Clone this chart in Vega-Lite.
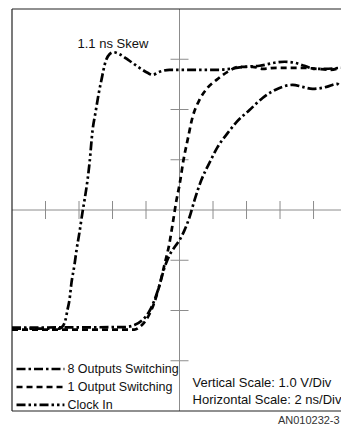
{
  "$schema": "https://vega.github.io/schema/vega-lite/v6.json",
  "width": 329,
  "height": 402,
  "autosize": {"type": "none"},
  "padding": {"left": 12, "top": 9, "right": 0, "bottom": 14},
  "background": "white",
  "config": {"view": {"stroke": null}, "text": {"font": "Liberation Sans", "color": "#111"}},
  "datasets": {
    "curves": [
      {"series": "Clock In", "t": 0, "v": 1.64},
      {"series": "Clock In", "t": 2.84, "v": 1.64},
      {"series": "Clock In", "t": 2.96, "v": 1.66},
      {"series": "Clock In", "t": 3.19, "v": 1.81},
      {"series": "Clock In", "t": 3.31, "v": 2.01},
      {"series": "Clock In", "t": 3.43, "v": 2.21},
      {"series": "Clock In", "t": 3.55, "v": 2.55},
      {"series": "Clock In", "t": 3.73, "v": 2.91},
      {"series": "Clock In", "t": 3.85, "v": 3.2},
      {"series": "Clock In", "t": 4.03, "v": 3.56},
      {"series": "Clock In", "t": 4.21, "v": 3.96},
      {"series": "Clock In", "t": 4.33, "v": 4.2},
      {"series": "Clock In", "t": 4.51, "v": 4.6},
      {"series": "Clock In", "t": 4.63, "v": 4.94},
      {"series": "Clock In", "t": 4.81, "v": 5.59},
      {"series": "Clock In", "t": 4.99, "v": 5.95},
      {"series": "Clock In", "t": 5.16, "v": 6.29},
      {"series": "Clock In", "t": 5.34, "v": 6.59},
      {"series": "Clock In", "t": 5.58, "v": 6.95},
      {"series": "Clock In", "t": 5.82, "v": 7.1},
      {"series": "Clock In", "t": 6.06, "v": 7.14},
      {"series": "Clock In", "t": 6.42, "v": 7.1},
      {"series": "Clock In", "t": 7.01, "v": 6.97},
      {"series": "Clock In", "t": 7.61, "v": 6.83},
      {"series": "Clock In", "t": 8.09, "v": 6.73},
      {"series": "Clock In", "t": 8.39, "v": 6.69},
      {"series": "Clock In", "t": 8.81, "v": 6.75},
      {"series": "Clock In", "t": 9.4, "v": 6.79},
      {"series": "Clock In", "t": 10.0, "v": 6.79},
      {"series": "Clock In", "t": 11.19, "v": 6.79},
      {"series": "Clock In", "t": 12.39, "v": 6.79},
      {"series": "Clock In", "t": 12.99, "v": 6.81},
      {"series": "Clock In", "t": 13.88, "v": 6.85},
      {"series": "Clock In", "t": 14.78, "v": 6.87},
      {"series": "Clock In", "t": 15.67, "v": 6.93},
      {"series": "Clock In", "t": 16.27, "v": 6.95},
      {"series": "Clock In", "t": 16.87, "v": 6.93},
      {"series": "Clock In", "t": 17.46, "v": 6.87},
      {"series": "Clock In", "t": 18.06, "v": 6.81},
      {"series": "Clock In", "t": 18.66, "v": 6.81},
      {"series": "Clock In", "t": 19.61, "v": 6.83},
      {"series": "1 Output Switching", "t": 0, "v": 1.62},
      {"series": "1 Output Switching", "t": 7.31, "v": 1.62},
      {"series": "1 Output Switching", "t": 7.61, "v": 1.67},
      {"series": "1 Output Switching", "t": 7.91, "v": 1.77},
      {"series": "1 Output Switching", "t": 8.21, "v": 1.93},
      {"series": "1 Output Switching", "t": 8.51, "v": 2.17},
      {"series": "1 Output Switching", "t": 8.81, "v": 2.51},
      {"series": "1 Output Switching", "t": 9.1, "v": 2.91},
      {"series": "1 Output Switching", "t": 9.4, "v": 3.34},
      {"series": "1 Output Switching", "t": 9.58, "v": 3.7},
      {"series": "1 Output Switching", "t": 9.82, "v": 4.2},
      {"series": "1 Output Switching", "t": 10.0, "v": 4.5},
      {"series": "1 Output Switching", "t": 10.24, "v": 5.0},
      {"series": "1 Output Switching", "t": 10.48, "v": 5.39},
      {"series": "1 Output Switching", "t": 10.78, "v": 5.85},
      {"series": "1 Output Switching", "t": 11.19, "v": 6.19},
      {"series": "1 Output Switching", "t": 11.67, "v": 6.43},
      {"series": "1 Output Switching", "t": 12.21, "v": 6.59},
      {"series": "1 Output Switching", "t": 12.87, "v": 6.75},
      {"series": "1 Output Switching", "t": 13.58, "v": 6.85},
      {"series": "1 Output Switching", "t": 14.36, "v": 6.85},
      {"series": "1 Output Switching", "t": 14.96, "v": 6.81},
      {"series": "1 Output Switching", "t": 15.79, "v": 6.83},
      {"series": "1 Output Switching", "t": 16.57, "v": 6.83},
      {"series": "1 Output Switching", "t": 17.34, "v": 6.83},
      {"series": "1 Output Switching", "t": 18.18, "v": 6.81},
      {"series": "1 Output Switching", "t": 18.96, "v": 6.79},
      {"series": "1 Output Switching", "t": 19.61, "v": 6.83},
      {"series": "8 Outputs Switching", "t": 0, "v": 1.66},
      {"series": "8 Outputs Switching", "t": 6.72, "v": 1.67},
      {"series": "8 Outputs Switching", "t": 7.31, "v": 1.71},
      {"series": "8 Outputs Switching", "t": 7.79, "v": 1.81},
      {"series": "8 Outputs Switching", "t": 8.21, "v": 1.99},
      {"series": "8 Outputs Switching", "t": 8.51, "v": 2.21},
      {"series": "8 Outputs Switching", "t": 8.81, "v": 2.51},
      {"series": "8 Outputs Switching", "t": 9.1, "v": 2.85},
      {"series": "8 Outputs Switching", "t": 9.4, "v": 3.1},
      {"series": "8 Outputs Switching", "t": 9.7, "v": 3.26},
      {"series": "8 Outputs Switching", "t": 10.0, "v": 3.4},
      {"series": "8 Outputs Switching", "t": 10.3, "v": 3.6},
      {"series": "8 Outputs Switching", "t": 10.6, "v": 3.86},
      {"series": "8 Outputs Switching", "t": 10.9, "v": 4.2},
      {"series": "8 Outputs Switching", "t": 11.31, "v": 4.6},
      {"series": "8 Outputs Switching", "t": 11.79, "v": 4.94},
      {"series": "8 Outputs Switching", "t": 12.27, "v": 5.25},
      {"series": "8 Outputs Switching", "t": 12.87, "v": 5.53},
      {"series": "8 Outputs Switching", "t": 13.4, "v": 5.75},
      {"series": "8 Outputs Switching", "t": 14.18, "v": 5.99},
      {"series": "8 Outputs Switching", "t": 14.96, "v": 6.23},
      {"series": "8 Outputs Switching", "t": 15.97, "v": 6.43},
      {"series": "8 Outputs Switching", "t": 16.75, "v": 6.49},
      {"series": "8 Outputs Switching", "t": 17.34, "v": 6.45},
      {"series": "8 Outputs Switching", "t": 17.94, "v": 6.41},
      {"series": "8 Outputs Switching", "t": 18.78, "v": 6.45},
      {"series": "8 Outputs Switching", "t": 19.4, "v": 6.51},
      {"series": "8 Outputs Switching", "t": 19.61, "v": 6.45}
    ],
    "frame": [
      {"x": 0, "x2": 19.64, "y": 8, "y2": 8},
      {"x": 0, "x2": 19.64, "y": 0, "y2": 0},
      {"x": 0, "x2": 0, "y": 0, "y2": 8}
    ],
    "center": [
      {"x": 0, "x2": 19.64, "y": 4, "y2": 4},
      {"x": 10, "x2": 10, "y": 0, "y2": 8}
    ],
    "xticks": [{"x": 2}, {"x": 4}, {"x": 6}, {"x": 8}, {"x": 12}, {"x": 14}, {"x": 16}, {"x": 18}],
    "yticks": [{"y": 1}, {"y": 2}, {"y": 3}, {"y": 5}, {"y": 6}, {"y": 7}],
    "legend": [
      {"series": "8 Outputs Switching", "x": 0.27, "x2": 3.13, "y": 0.836, "lx": 3.31},
      {"series": "1 Output Switching", "x": 0.27, "x2": 3.13, "y": 0.478, "lx": 3.31},
      {"series": "Clock In", "x": 0.27, "x2": 3.13, "y": 0.12, "lx": 3.31}
    ],
    "notes": [
      {"text": "1.1 ns Skew", "x": 3.91, "y": 7.3},
      {"text": "Vertical Scale: 1.0 V/Div", "x": 10.78, "y": 0.557},
      {"text": "Horizontal Scale: 2 ns/Div", "x": 10.78, "y": 0.219}
    ],
    "code": [{"text": "AN010232-3", "x": 19.56, "y": -0.2}]
  },
  "layer": [
    {
      "data": {"name": "center"},
      "mark": {"type": "rule", "color": "#8c8c8c", "strokeWidth": 1},
      "encoding": {
        "x": {"field": "x", "type": "quantitative", "scale": {"domain": [0, 19.64], "nice": false, "zero": false}, "axis": null},
        "x2": {"field": "x2"},
        "y": {"field": "y", "type": "quantitative", "scale": {"domain": [0, 8], "nice": false, "zero": false}, "axis": null},
        "y2": {"field": "y2"}
      }
    },
    {
      "data": {"name": "xticks"},
      "mark": {"type": "tick", "orient": "vertical", "size": 18, "thickness": 1, "color": "#8c8c8c", "opacity": 1},
      "encoding": {
        "x": {"field": "x", "type": "quantitative", "scale": {"domain": [0, 19.64], "nice": false, "zero": false}, "axis": null},
        "y": {"datum": 4, "type": "quantitative", "scale": {"domain": [0, 8], "nice": false, "zero": false}, "axis": null}
      }
    },
    {
      "data": {"name": "yticks"},
      "mark": {"type": "tick", "orient": "horizontal", "size": 18, "thickness": 1, "color": "#8c8c8c", "opacity": 1},
      "encoding": {
        "y": {"field": "y", "type": "quantitative", "scale": {"domain": [0, 8], "nice": false, "zero": false}, "axis": null},
        "x": {"datum": 10, "type": "quantitative", "scale": {"domain": [0, 19.64], "nice": false, "zero": false}, "axis": null}
      }
    },
    {
      "data": {"name": "frame"},
      "mark": {"type": "rule", "color": "#222", "strokeWidth": 1.2},
      "encoding": {
        "x": {"field": "x", "type": "quantitative", "scale": {"domain": [0, 19.64], "nice": false, "zero": false}, "axis": null},
        "x2": {"field": "x2"},
        "y": {"field": "y", "type": "quantitative", "scale": {"domain": [0, 8], "nice": false, "zero": false}, "axis": null},
        "y2": {"field": "y2"}
      }
    },
    {
      "data": {"name": "curves"},
      "mark": {"type": "line", "color": "black", "strokeWidth": 2.7, "interpolate": "monotone", "strokeCap": "butt"},
      "encoding": {
        "x": {"field": "t", "type": "quantitative", "scale": {"domain": [0, 19.64], "nice": false, "zero": false}, "axis": null},
        "y": {"field": "v", "type": "quantitative", "scale": {"domain": [0, 8], "nice": false, "zero": false}, "axis": null},
        "detail": {"field": "series", "type": "nominal"},
        "strokeDash": {
          "field": "series", "type": "nominal",
          "scale": {"domain": ["8 Outputs Switching", "1 Output Switching", "Clock In"], "range": [[9, 3, 2.5, 3], [6, 4], [9, 3, 2.5, 3, 2.5, 3]]},
          "legend": null
        }
      }
    },
    {
      "data": {"name": "legend"},
      "mark": {"type": "rule", "color": "black", "strokeWidth": 2.7, "strokeCap": "butt"},
      "encoding": {
        "x": {"field": "x", "type": "quantitative", "scale": {"domain": [0, 19.64], "nice": false, "zero": false}, "axis": null},
        "x2": {"field": "x2"},
        "y": {"field": "y", "type": "quantitative", "scale": {"domain": [0, 8], "nice": false, "zero": false}, "axis": null},
        "strokeDash": {
          "field": "series", "type": "nominal",
          "scale": {"domain": ["8 Outputs Switching", "1 Output Switching", "Clock In"], "range": [[9, 3, 2.5, 3], [6, 4], [9, 3, 2.5, 3, 2.5, 3]]},
          "legend": null
        }
      }
    },
    {
      "data": {"name": "legend"},
      "mark": {"type": "text", "fontSize": 12.5, "align": "left", "baseline": "middle"},
      "encoding": {
        "x": {"field": "lx", "type": "quantitative", "scale": {"domain": [0, 19.64], "nice": false, "zero": false}, "axis": null},
        "y": {"field": "y", "type": "quantitative", "scale": {"domain": [0, 8], "nice": false, "zero": false}, "axis": null},
        "text": {"field": "series"}
      }
    },
    {
      "data": {"name": "notes"},
      "mark": {"type": "text", "fontSize": 13, "align": "left", "baseline": "middle"},
      "encoding": {
        "x": {"field": "x", "type": "quantitative", "scale": {"domain": [0, 19.64], "nice": false, "zero": false}, "axis": null},
        "y": {"field": "y", "type": "quantitative", "scale": {"domain": [0, 8], "nice": false, "zero": false}, "axis": null},
        "text": {"field": "text"}
      }
    },
    {
      "data": {"name": "code"},
      "mark": {"type": "text", "fontSize": 11, "align": "right", "baseline": "middle", "color": "#333"},
      "encoding": {
        "x": {"field": "x", "type": "quantitative", "scale": {"domain": [0, 19.64], "nice": false, "zero": false}, "axis": null},
        "y": {"field": "y", "type": "quantitative", "scale": {"domain": [0, 8], "nice": false, "zero": false}, "axis": null},
        "text": {"field": "text"}
      }
    }
  ]
}
